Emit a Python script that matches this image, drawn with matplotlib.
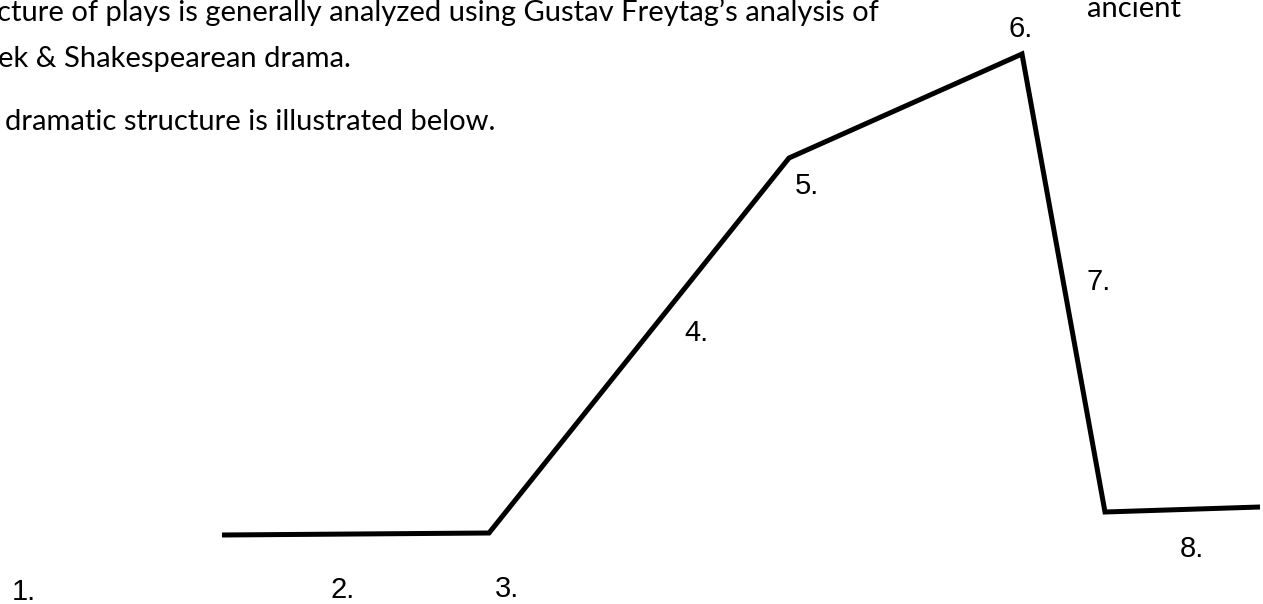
import matplotlib.pyplot as plt

# Freytag's pyramid, in picture pixel units (x right, y down)
plot_x = [222, 489, 789, 1022, 1105, 1260]
plot_y = [535, 533, 158, 54, 512, 507]

stage_labels = ["1.", "2.", "3.", "4.", "5.", "6.", "7.", "8."]
label_x = [12, 331, 495, 684, 795, 1008, 1086, 1180]
label_y = [600, 598, 597, 341, 194, 37, 290, 557]

intro_lines = [
    "cture of plays is generally analyzed using Gustav Freytag\u2019s analysis of",
    "ek & Shakespearean drama.",
    "dramatic structure is illustrated below.",
]
intro_x = [-3, -2, 5]
intro_y = [21, 67, 130]

fig = plt.figure(figsize=(12.63, 6.04), dpi=100)
ax = fig.add_axes([0, 0, 1, 1])
ax.set_xlim(0, 1263)
ax.set_ylim(604, 0)
ax.axis("off")

ax.plot(plot_x, plot_y, color="black", lw=3.6, solid_joinstyle="miter",
        solid_capstyle="butt")

for s, x, y in zip(stage_labels, label_x, label_y):
    ax.text(x, y, s, fontsize=21, family="Liberation Sans", color="black",
            ha="left", va="baseline")

for s, x, y in zip(intro_lines, intro_x, intro_y):
    ax.text(x, y, s, fontsize=21, family="Lato", color="black",
            ha="left", va="baseline")
ax.text(1087, 17, "ancient", fontsize=21, family="Lato", color="black",
        ha="left", va="baseline")

fig.savefig("out.png", dpi=100)
